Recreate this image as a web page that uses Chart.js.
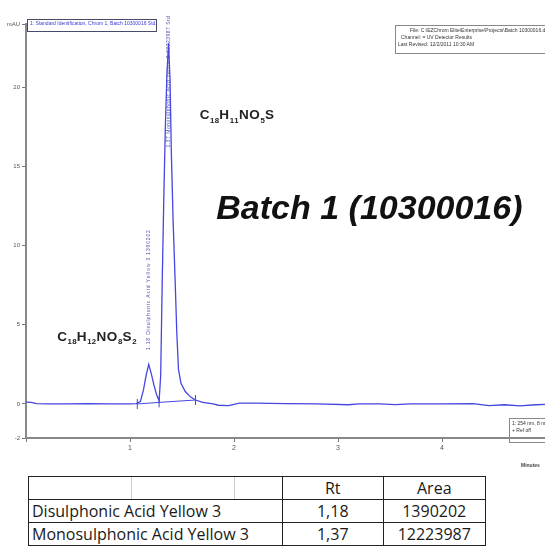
<!DOCTYPE html>
<html>
<head>
<meta charset="utf-8">
<script src="https://cdn.jsdelivr.net/npm/chart.js@4"></script>
<style>
  body { margin: 0; background: #fff; width: 545px; height: 550px; overflow: hidden; position: relative; font-family: "Liberation Sans", Arial, sans-serif; }
  #wrap { position: absolute; left: 0; top: 0; width: 545px; height: 460px; overflow: hidden; }
  .box { position: absolute; font-size: 5px; line-height: 7px; white-space: nowrap; overflow: hidden; }
  #legendBox { left: 27px; top: 19px; width: 126px; height: 11px; border: 1.5px solid #4a4a66; color: #3a3ad0; padding-left: 2px; }
  #infoBox { left: 395px; top: 25px; width: 152px; height: 25px; border: 1px solid #888; color: #333; padding: 1px 2px; }
  #detBox { left: 509px; top: 418px; width: 40px; height: 21px; border: 1px solid #888; color: #333; padding: 1px 2px; }
  #minutes { position: absolute; left: 521px; top: 462px; font-size: 5px; font-weight: bold; color: #444; }
  table { position: absolute; left: 28px; top: 476px; border-collapse: collapse; font-family: "Open Sans", sans-serif; font-size: 16px; color: #1a1a1a; }
  td { border: 1.5px solid #222; padding: 0 3px; height: 22px; line-height: 22px; white-space: nowrap; }
  td.c { text-align: center; }
  td.blank { background-image: linear-gradient(#ccc, #ccc), linear-gradient(#ccc, #ccc); background-size: 1px 100%, 1px 100%; background-position: 102px 0, 205px 0; background-repeat: no-repeat; }
</style>
</head>
<body>
<div id="wrap"><canvas id="c" width="552" height="460"></canvas></div>
<div id="legendBox" class="box">1: Standard Identification, Chrom 1, Batch 10300016 Std, 254 nm</div>
<div id="infoBox" class="box">
  <div style="padding-left:12px">File: C:\EZChrom Elite\Enterprise\Projects\Batch 10300016.dat</div>
  <div style="padding-left:3px">Channel: = UV Detector Results</div>
  <div>Last Revised: 12/2/2011 10:30 AM</div>
</div>
<div id="detBox" class="box"><div>1: 254 nm, 8 nm</div><div>+ Ref off</div></div>
<div id="minutes">Minutes</div>
<table>
  <tr><td class="blank" style="width:247px"></td><td class="c" style="width:93.5px">Rt</td><td class="c" style="width:95.5px">Area</td></tr>
  <tr><td>Disulphonic Acid Yellow 3</td><td class="c">1,18</td><td class="c">1390202</td></tr>
  <tr><td>Monosulphonic Acid Yellow 3</td><td class="c">1,37</td><td class="c">12223987</td></tr>
</table>
<script>
// chromatogram trace (minutes / mAU)
const times = [0.00, 0.05, 0.10, 0.20, 0.40, 0.60, 0.80, 1.00, 1.06, 1.10, 1.13, 1.155, 1.18, 1.205, 1.23, 1.255, 1.28,
  1.295, 1.31, 1.325, 1.34, 1.355, 1.37, 1.385, 1.397, 1.415, 1.434, 1.45, 1.466, 1.49, 1.53, 1.58, 1.63, 1.70, 1.80,
  1.85, 1.95, 2.05, 2.20, 2.50, 2.80, 3.10, 3.20, 3.40, 3.55, 3.70, 4.00, 4.30, 4.45, 4.60, 4.75, 4.90, 5.00];
const signal = [0.12, 0.10, 0.02, 0.00, 0.00, 0.02, 0.00, 0.00, 0.02, 0.15, 0.90, 1.80, 2.50, 1.90, 1.20, 0.60, 0.20,
  1.80, 7.8, 13.0, 17.5, 20.8, 22.8, 20.5, 16.0, 11.5, 7.8, 4.5, 2.2, 1.3, 0.8, 0.45, 0.25, 0.10, 0.00,
  -0.08, -0.10, 0.05, 0.05, 0.02, 0.00, -0.05, 0.00, 0.00, -0.04, 0.00, 0.00, 0.02, -0.10, -0.05, -0.12, -0.05, -0.02];
// integration baseline drawn under the peaks
const baseTimes = [1.07, 1.28, 1.63];
const baseValues = [0.00, 0.10, 0.25];

const yTicks = [0, 5, 10, 15, 20];
const xTicks = [0, 1, 2, 3, 4];
const yMin = -2.15, yMax = 24.0;

const peakNames = ['1.18 Disulphonic Acid Yellow 3 1390202', '1.37 Monosulphonic Acid Yellow 3 12223987 Std'];
const peakTimes = [1.18, 1.37];
const peakTop = [11.0, 24.5];
const peakBottom = [3.4, 16.2];

const formulas = ['C18H12NO8S2', 'C18H11NO5S'];
const formulaX = [0.30, 1.67];
const formulaY = [4.0, 18.0];
const batchLabel = 'Batch 1 (10300016)';

const blue = '#4646e0';

function drawFormula(ctx, s, x, y, size) {
  let cx = x;
  for (const ch of s) {
    const sub = ch >= '0' && ch <= '9';
    ctx.font = 'bold ' + (sub ? size * 0.58 : size) + 'px "Liberation Sans", Arial';
    ctx.fillText(ch, cx, sub ? y + size * 0.28 : y);
    cx += ctx.measureText(ch).width + (sub ? 0.3 : 0.6);
  }
}

const annotations = {
  id: 'annotations',
  afterDatasetsDraw(chart) {
    const { ctx, scales: { x, y } } = chart;
    ctx.save();
    ctx.fillStyle = '#222';
    ctx.textBaseline = 'alphabetic';
    formulas.forEach((f, i) => drawFormula(ctx, f, x.getPixelForValue(formulaX[i]), y.getPixelForValue(formulaY[i]), 13.5));
    ctx.font = 'italic bold 34px "Liberation Sans", Arial';
    ctx.fillStyle = '#111';
    ctx.fillText(batchLabel, x.getPixelForValue(1.83), y.getPixelForValue(11.7));
    // peak labels, rotated
    peakNames.forEach((n, i) => {
      const px = x.getPixelForValue(peakTimes[i]);
      const top = y.getPixelForValue(peakTop[i]);
      const bot = y.getPixelForValue(peakBottom[i]);
      ctx.save();
      ctx.translate(px, bot);
      ctx.rotate(-Math.PI / 2);
      ctx.font = '5px "Liberation Sans", Arial';
      ctx.fillStyle = '#5050b0';
      ctx.textBaseline = 'middle';
      const w = ctx.measureText(n).width;
      const sp = Math.max(0, (bot - top - w) / n.length);
      let cx = 0;
      for (const ch of n) { ctx.fillText(ch, cx, 0); cx += ctx.measureText(ch).width + sp; }
      ctx.restore();
    });
    ctx.restore();
  }
};

new Chart(document.getElementById('c'), {
  type: 'line',
  data: {
    datasets: [
      {
        data: times.map((t, i) => ({ x: t, y: signal[i] })),
        borderColor: blue,
        borderWidth: 1.3,
        pointRadius: 0,
        tension: 0
      },
      {
        data: baseTimes.map((t, i) => ({ x: t, y: baseValues[i] })),
        borderColor: blue,
        borderWidth: 1,
        pointStyle: 'line',
        pointRotation: 90,
        pointRadius: 5,
        pointBorderColor: blue,
        pointBorderWidth: 1,
        tension: 0
      }
    ]
  },
  options: {
    responsive: false,
    animation: false,
    layout: { padding: { top: 24, right: 0, left: 0, bottom: 0 } },
    plugins: { legend: { display: false }, tooltip: { enabled: false } },
    scales: {
      x: {
        type: 'linear',
        min: 0,
        max: 5.0,
        afterFit: s => { s.height = 22; },
        afterBuildTicks: s => { s.ticks = xTicks.map(v => ({ value: v })); },
        ticks: { callback: v => (v === 0 ? '' : v), font: { size: 7 }, color: '#555', padding: 2, maxRotation: 0 },
        grid: { drawOnChartArea: false, tickLength: 4, color: '#777' },
        border: { color: '#888', width: 2 }
      },
      y: {
        min: yMin,
        max: yMax,
        afterFit: s => { s.width = 26; },
        afterBuildTicks: s => { s.ticks = [yMin, ...yTicks, yMax].map(v => ({ value: v })); },
        ticks: {
          callback: v => (v === yMax ? 'mAU' : v === yMin ? '-2' : v),
          font: { size: 6 }, color: '#555', padding: 2
        },
        grid: { drawOnChartArea: false, tickLength: 4, color: '#777' },
        border: { color: '#888', width: 2 }
      }
    }
  },
  plugins: [annotations]
});
</script>
</body>
</html>
